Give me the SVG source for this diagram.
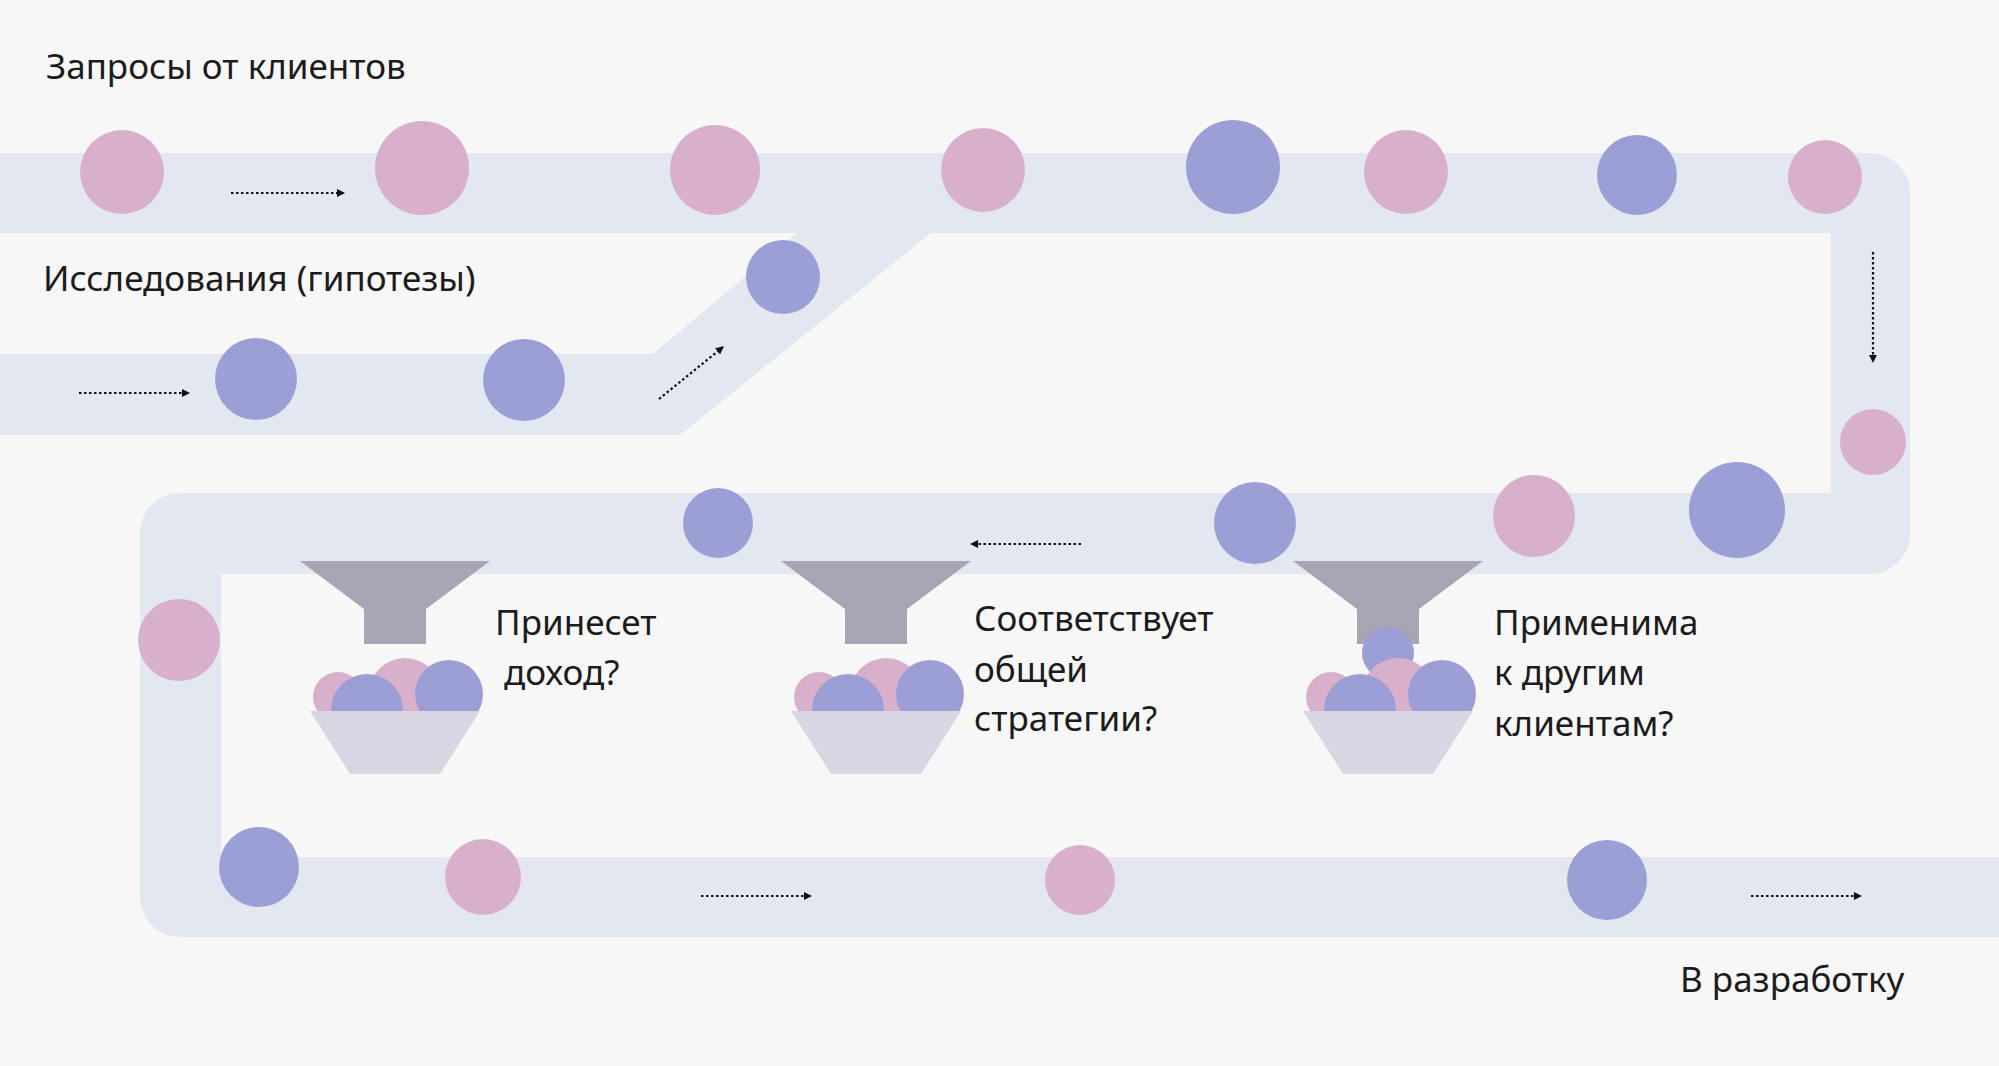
<svg xmlns="http://www.w3.org/2000/svg" width="1999" height="1066" viewBox="0 0 1999 1066">
<defs>
<style>
.tr{fill:#e3e7ef}
.p{fill:#d8b0cc}
.b{fill:#9b9fd6}
.fn{fill:#a8a5b4}
.bw{fill:#d8d6e3}
.t{font-family:"Noto Sans","Open Sans",sans-serif;font-size:35px;fill:#1c1c1c}
.ar{stroke:#111;stroke-width:2.2;stroke-dasharray:2.5 2.5;fill:none;marker-end:url(#ah)}
</style>
<marker id="ah" markerWidth="8" markerHeight="8" refX="7" refY="4" orient="auto" markerUnits="userSpaceOnUse"><path d="M0,0L8,4L0,8z" fill="#111"/></marker>
<g id="balls">
<circle class="p" cx="-57" cy="-14" r="25"/>
<circle class="p" cx="10" cy="-17" r="36"/>
<circle class="b" cx="-28" cy="-1" r="36"/>
<circle class="b" cx="54" cy="-17" r="34"/>
</g>
</defs>
<rect width="1999" height="1066" fill="#f8f7f8"/>
<g id="tracks">
<path class="tr" d="M0,153H1870a40,40 0 0 1 40,40V534a40,40 0 0 1 -40,40H221V857H1999V937H180a40,40 0 0 1 -40,-40V533a40,40 0 0 1 40,-40H1831V233H0z"/>
<path class="tr" d="M0,354H653L797,233H931L680,435H0z"/>
</g>
<g id="connectors">
<path class="ar" d="M231,193H344"/>
<path class="ar" d="M79,393H189"/>
<path class="ar" d="M659,399L723,347"/>
<path class="ar" d="M1873,252V362"/>
<path class="ar" d="M1081,544H971"/>
<path class="ar" d="M701,896H811"/>
<path class="ar" d="M1751,896H1861"/>
</g>
<g id="circles">
<circle class="p" cx="122" cy="172" r="42"/>
<circle class="p" cx="422" cy="168" r="47"/>
<circle class="p" cx="715" cy="170" r="45"/>
<circle class="p" cx="983" cy="170" r="42"/>
<circle class="b" cx="1233" cy="167" r="47"/>
<circle class="p" cx="1406" cy="172" r="42"/>
<circle class="b" cx="1637" cy="175" r="40"/>
<circle class="p" cx="1825" cy="177" r="37"/>
<circle class="b" cx="256" cy="379" r="41"/>
<circle class="b" cx="524" cy="380" r="41"/>
<circle class="b" cx="783" cy="277" r="37"/>
<circle class="p" cx="1873" cy="442" r="33"/>
<circle class="b" cx="1737" cy="510" r="48"/>
<circle class="p" cx="1534" cy="516" r="41"/>
<circle class="b" cx="1255" cy="523" r="41"/>
<circle class="b" cx="718" cy="523" r="35"/>
<circle class="p" cx="179" cy="640" r="41"/>
<circle class="b" cx="259" cy="867" r="40"/>
<circle class="p" cx="483" cy="877" r="38"/>
<circle class="p" cx="1080" cy="880" r="35"/>
<circle class="b" cx="1607" cy="880" r="40"/>
</g>
<g id="filter1">
<path class="fn" d="M300,561H490L426,609V644H364V609z"/>
<use href="#balls" x="395" y="711"/>
<path class="bw" d="M310,711H480L440,774H350z"/>
</g>
<g id="filter2">
<path class="fn" d="M781,561H971L907,609V644H845V609z"/>
<use href="#balls" x="876" y="711"/>
<path class="bw" d="M791,711H961L921,774H831z"/>
</g>
<g id="filter3">
<path class="fn" d="M1293,561H1483L1419,609V644H1357V609z"/>
<circle class="b" cx="1388" cy="653" r="26"/>
<use href="#balls" x="1388" y="711"/>
<path class="bw" d="M1303,711H1473L1433,774H1343z"/>
</g>
<g id="labels">
<text class="t" x="46" y="79">Запросы от клиентов</text>
<text class="t" x="43" y="291">Исследования (гипотезы)</text>
<text class="t" x="495" y="635">Принесет</text>
<text class="t" x="504" y="685">доход?</text>
<text class="t" x="974" y="631">Соответствует</text>
<text class="t" x="974" y="682">общей</text>
<text class="t" x="974" y="731">стратегии?</text>
<text class="t" x="1494" y="635">Применима</text>
<text class="t" x="1494" y="685">к другим</text>
<text class="t" x="1494" y="736">клиентам?</text>
<text class="t" x="1680" y="992">В разработку</text>
</g>
</svg>
